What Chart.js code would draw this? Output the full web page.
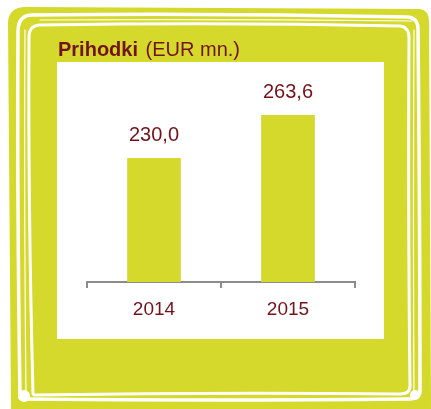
<!DOCTYPE html>
<html>
<head>
<meta charset="utf-8">
<script src="https://cdn.jsdelivr.net/npm/chart.js@4.4.1/dist/chart.umd.min.js"></script>
<style>
  html, body { margin: 0; padding: 0; background: #fff; }
  #wrap { width: 431px; height: 409px; }
</style>
</head>
<body>
<div id="wrap"><canvas id="chart"></canvas></div>
<script>
// data
const years = ['2014', '2015'];
const revenue = [230.0, 263.6];
const titleBold = 'Prihodki';
const titleRest = ' (EUR mn.)';

const lime = '#d4d92b';
const wine = '#74121a';
const axisGrey = '#8c8c8c';
const family = '"Liberation Sans", Arial, sans-serif';

// slovenian style decimal comma
const fmt = v => v.toFixed(1).replace('.', ',');

// green board with the hand drawn white lines, white panel and title
const framePlugin = {
  id: 'frame',
  beforeDraw(chart) {
    const ctx = chart.ctx;
    ctx.save();
    ctx.fillStyle = '#fff';
    ctx.fillRect(0, 0, chart.width, chart.height);

    ctx.fillStyle = lime;
    ctx.beginPath();
    ctx.moveTo(8, 22);
    ctx.quadraticCurveTo(9, 8, 24, 7);
    ctx.lineTo(420, 9);
    ctx.quadraticCurveTo(429, 10, 429, 22);
    ctx.lineTo(431, 409);
    ctx.lineTo(11, 409);
    ctx.closePath();
    ctx.fill();

    ctx.strokeStyle = '#fff';
    ctx.lineCap = 'round';
    ctx.lineJoin = 'round';
    // outer scribble
    ctx.lineWidth = 3.5;
    ctx.beginPath();
    ctx.moveTo(20, 398);
    ctx.quadraticCurveTo(17, 200, 18, 30);
    ctx.quadraticCurveTo(19, 15, 32, 15);
    ctx.quadraticCurveTo(220, 13, 408, 17);
    ctx.quadraticCurveTo(419, 18, 418, 32);
    ctx.quadraticCurveTo(420, 220, 420, 392);
    ctx.quadraticCurveTo(419, 400, 405, 399);
    ctx.quadraticCurveTo(220, 401, 22, 399);
    ctx.stroke();
    // inner scribble
    ctx.lineWidth = 3;
    ctx.beginPath();
    ctx.moveTo(33, 394);
    ctx.quadraticCurveTo(28, 200, 29, 36);
    ctx.quadraticCurveTo(30, 24, 42, 25);
    ctx.quadraticCurveTo(220, 22, 400, 26);
    ctx.quadraticCurveTo(409, 27, 409, 38);
    ctx.quadraticCurveTo(408, 220, 410, 386);
    ctx.quadraticCurveTo(410, 394, 400, 394);
    ctx.quadraticCurveTo(220, 392, 34, 395);
    ctx.stroke();
    // thin doubled strokes
    ctx.lineWidth = 1.2;
    ctx.beginPath();
    ctx.moveTo(25, 30);
    ctx.quadraticCurveTo(24, 200, 26, 396);
    ctx.moveTo(40, 20);
    ctx.quadraticCurveTo(220, 19, 412, 21);
    ctx.moveTo(414, 30);
    ctx.quadraticCurveTo(413, 220, 414, 392);
    ctx.stroke();
    // blobs in the lower corners
    ctx.fillStyle = '#fff';
    ctx.beginPath();
    ctx.arc(24, 396, 6, 0, Math.PI * 2);
    ctx.arc(415, 395, 5, 0, Math.PI * 2);
    ctx.fill();

    // white panel
    ctx.fillRect(57, 62, 327, 277);

    // title
    ctx.fillStyle = wine;
    ctx.textBaseline = 'alphabetic';
    ctx.textAlign = 'left';
    ctx.font = 'bold 20px ' + family;
    ctx.fillText(titleBold, 58, 56);
    const w = ctx.measureText(titleBold).width;
    ctx.font = '20px ' + family;
    ctx.fillText(titleRest, 58 + w + 2, 56);
    ctx.restore();
  }
};

// value above each bar
const valuePlugin = {
  id: 'values',
  afterDatasetsDraw(chart) {
    const ctx = chart.ctx;
    const meta = chart.getDatasetMeta(0);
    ctx.save();
    ctx.fillStyle = wine;
    ctx.font = '20px ' + family;
    ctx.textAlign = 'center';
    ctx.textBaseline = 'alphabetic';
    meta.data.forEach((bar, i) => {
      ctx.fillText(fmt(revenue[i]), bar.x, bar.y - 17);
    });
    ctx.restore();
  }
};

new Chart(document.getElementById('chart'), {
  type: 'bar',
  data: {
    labels: years,
    datasets: [{
      data: revenue,
      backgroundColor: lime,
      categoryPercentage: 1,
      barPercentage: 0.4
    }]
  },
  options: {
    responsive: true,
    maintainAspectRatio: false,
    animation: false,
    layout: { padding: { left: 87, right: 76, top: 62, bottom: 0 } },
    plugins: {
      legend: { display: false },
      tooltip: { enabled: false }
    },
    scales: {
      x: {
        grid: { display: true, drawOnChartArea: false, offset: true, tickLength: 6, color: axisGrey, lineWidth: 2 },
        border: { display: true, color: axisGrey, width: 2 },
        ticks: { color: wine, font: { family: family, size: 19 }, padding: 10 },
        afterFit(axis) { axis.height = 127; }
      },
      y: { display: false, min: 133, max: 305 }
    }
  },
  plugins: [framePlugin, valuePlugin]
});
</script>
</body>
</html>
